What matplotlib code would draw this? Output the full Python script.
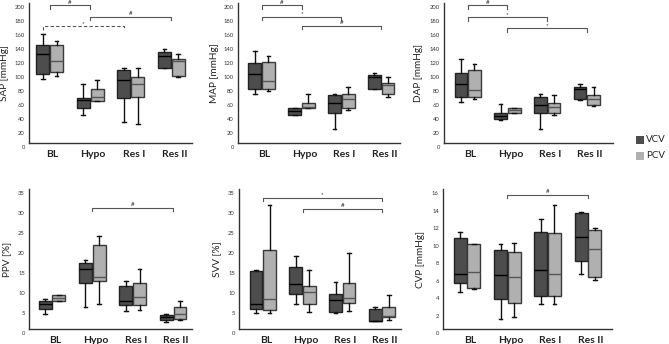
import matplotlib
matplotlib.use("Agg")
import matplotlib.pyplot as plt
from matplotlib.patches import Rectangle
from matplotlib.transforms import ScaledTranslation

categories = ["BL", "Hypo", "Res I", "Res II"]
groups = ["VCV", "PCV"]

# five-number summaries per category: [whisker low, q1, median, q3, whisker high]
sap_vcv = [[92, 99, 128, 140, 156], [41, 50, 62, 65, 84], [31, 65, 90, 105, 107], [107, 108, 125, 131, 134]]
sap_pcv = [[96, 102, 118, 140, 146], [60, 60, 66, 78, 91], [28, 66, 85, 95, 108], [94, 96, 117, 120, 127]]
map_vcv = [[70, 77, 99, 114, 132], [41, 41, 46, 50, 50], [20, 43, 57, 69, 70], [77, 77, 94, 97, 100]]
map_pcv = [[75, 78, 89, 116, 124], [50, 50, 52, 58, 71], [47, 50, 63, 70, 81], [66, 70, 83, 86, 95]]
dap_vcv = [[59, 66, 85, 100, 121], [33, 35, 39, 44, 56], [20, 43, 55, 66, 70], [62, 63, 77, 80, 84]]
dap_pcv = [[64, 66, 76, 105, 113], [44, 44, 47.5, 51, 51], [40, 43, 52, 58, 69], [53, 55, 64, 69, 80]]
ppv_vcv = [[3.8, 5.0, 6.3, 7.1, 7.5], [5.5, 11.7, 15.2, 16.5, 17.4], [4.6, 6.1, 7.0, 10.9, 12.1], [1.8, 2.4, 3.2, 3.6, 3.8]]
ppv_pcv = [[7.2, 7.2, 7.9, 8.6, 8.7], [6.3, 12.1, 13.2, 21.0, 23.3], [4.9, 6.1, 8.2, 11.7, 15.1], [2.4, 2.6, 3.9, 5.7, 7.2]]
svv_vcv = [[4.2, 5.1, 6.3, 14.7, 14.9], [6.3, 8.8, 11.3, 15.7, 18.4], [4.0, 4.4, 7.3, 8.8, 11.9], [2.2, 2.2, 2.2, 5.2, 5.7]]
svv_pcv = [[4.2, 4.8, 7.6, 19.8, 31.0], [4.4, 6.3, 9.4, 10.8, 14.8], [4.7, 6.7, 7.9, 11.6, 19.0], [2.3, 3.2, 3.3, 5.7, 8.6]]
cvp_vcv = [[4.3, 5.25, 6.3, 10.45, 11.1], [1.15, 3.45, 6.15, 9.05, 9.7], [2.85, 3.75, 6.75, 11.15, 12.65], [6.3, 7.75, 10.6, 13.25, 13.45]]
cvp_pcv = [[4.55, 4.75, 6.6, 9.7, 9.75], [1.35, 3.05, 5.95, 8.8, 9.85], [2.85, 3.75, 6.35, 11.05, 14.25], [5.6, 5.95, 9.15, 11.3, 11.6]]

# significance brackets: (from category, to category, height, symbol, dashed)
sap_sig = [(0, 1, 197, "#", False), (1, 3, 181, "#", False), (0, 2, 167, "*", True)]
map_sig = [(0, 1, 197, "#", False), (0, 2, 181, "*", False), (1, 3, 168, "#", False)]
dap_sig = [(0, 1, 197, "#", False), (0, 2, 180, "*", False), (1, 3, 164, "*", False)]
ppv_sig = [(1, 3, 30.4, "#", False)]
svv_sig = [(0, 3, 32.8, "*", False), (1, 3, 30.2, "#", False)]
cvp_sig = [(1, 3, 15.35, "#", False)]

ylabels = ["SAP [mmHg]", "MAP [mmHg]", "DAP [mmHg]", "PPV [%]", "SVV [%]", "CVP [mmHg]"]

W, H = 669, 344
fig = plt.figure(figsize=(W / 100, H / 100), dpi=100)
plt.rcParams['font.family'] = ['Lato', 'DejaVu Sans']

dark, light = "#4d4d4d", "#b0b0b0"
off, bw = 0.17, 0.32

panels = [
    (sap_vcv, sap_pcv, sap_sig, 200, 20, (29.3, 191.7, 3.3, 143.3), (-0.5, 3.5), -20),
    (map_vcv, map_pcv, map_sig, 200, 20, (238.3, 400.0, 3.3, 143.3), (-0.585, 3.47), -19),
    (dap_vcv, dap_pcv, dap_sig, 200, 20, (444.3, 613.0, 3.3, 143.3), (-0.59, 3.66), -21),
    (ppv_vcv, ppv_pcv, ppv_sig, 35, 5, (29.3, 191.7, 189.3, 329.3), (-0.56, 3.46), -18.5),
    (svv_vcv, svv_pcv, svv_sig, 35, 5, (239.3, 400.7, 189.3, 329.3), (-0.59, 3.47), -18.5),
    (cvp_vcv, cvp_pcv, cvp_sig, 16, 2, (443.3, 611.7, 189.3, 329.3), (-0.59, 3.59), -18.5),
]


def stats_from(rows):
    return [dict(whislo=r[0], q1=r[1], med=r[2], q3=r[3], whishi=r[4], fliers=[]) for r in rows]


for (vcv, pcv, sig, ytop, ystep, (l, r, t, b), xl, ylx), ylab in zip(panels, ylabels):
    ax = fig.add_axes([l / W, (H - b) / H, (r - l) / W, (b - t) / H])
    for data, sgn, fc, ec, mc in [(vcv, -1, dark, "#222222", "#000000"),
                                  (pcv, 1, light, "#3a3a3a", "#555555")]:
        pos = [i + sgn * off for i in range(len(categories))]
        ax.bxp(stats_from(data), positions=pos, widths=bw, patch_artist=True,
               showfliers=False, capwidths=0.09,
               boxprops=dict(facecolor=fc, edgecolor=ec, linewidth=1.0),
               medianprops=dict(color=mc, linewidth=1.0),
               whiskerprops=dict(color="#111111", linewidth=1.0),
               capprops=dict(color="#111111", linewidth=1.0))
    ax.set_xlim(*xl)
    ax.set_ylim(0, ytop)
    ax.set_xticks(range(len(categories)))
    ax.set_xticklabels(categories, fontsize=7.5, fontweight="bold", color="#222222")
    yt = list(range(0, ytop + 1, ystep))
    ax.set_yticks(yt)
    ax.set_yticklabels([str(v) for v in yt], fontsize=4.2, color="#333333")
    ax.tick_params(axis="both", length=0)
    ax.tick_params(axis="y", pad=3.2)
    ax.tick_params(axis="x", pad=4.5)
    for s in ["top", "right"]:
        ax.spines[s].set_visible(False)
    for s in ["left", "bottom"]:
        ax.spines[s].set_color("#333333")
        ax.spines[s].set_linewidth(1.0)
    ax.set_ylabel(ylab, fontsize=7.2, color="#222222")
    ax.yaxis.set_label_coords(ylx / (r - l), 0.5)
    for lab in ax.get_yticklabels():
        lab.set_transform(lab.get_transform() + ScaledTranslation(0, -0.04, fig.dpi_scale_trans))
    for lab in ax.get_xticklabels():
        lab.set_transform(lab.get_transform() + ScaledTranslation(0.03, 0, fig.dpi_scale_trans))
    tick = 0.024 * ytop
    for i, j, y, sym, dashed in sig:
        x0, x1 = (i - off, j - off) if dashed else (i, j)
        ax.plot([x0, x0, x1, x1], [y - tick, y, y, y - tick], color="#555555",
                lw=0.8, ls=(0, (3, 2)) if dashed else "-", clip_on=False)
        ax.text((x0 + x1) / 2, y + 0.004 * ytop, sym, ha="center", va="bottom",
                fontsize=4.5, color="#222222", clip_on=False)

# legend
for k, (name, col) in enumerate(zip(groups, [dark, light])):
    y_top = 135.7 + k * 16
    fig.patches.append(Rectangle((636 / W, (H - y_top - 8.7) / H), 7.5 / W, 8.7 / H,
                                 facecolor=col, edgecolor="none", transform=fig.transFigure))
    fig.text(646 / W, (H - y_top - 4.3) / H, name, fontsize=7, va="center", ha="left", color="#222222")

fig.savefig("out.png", dpi=100)
